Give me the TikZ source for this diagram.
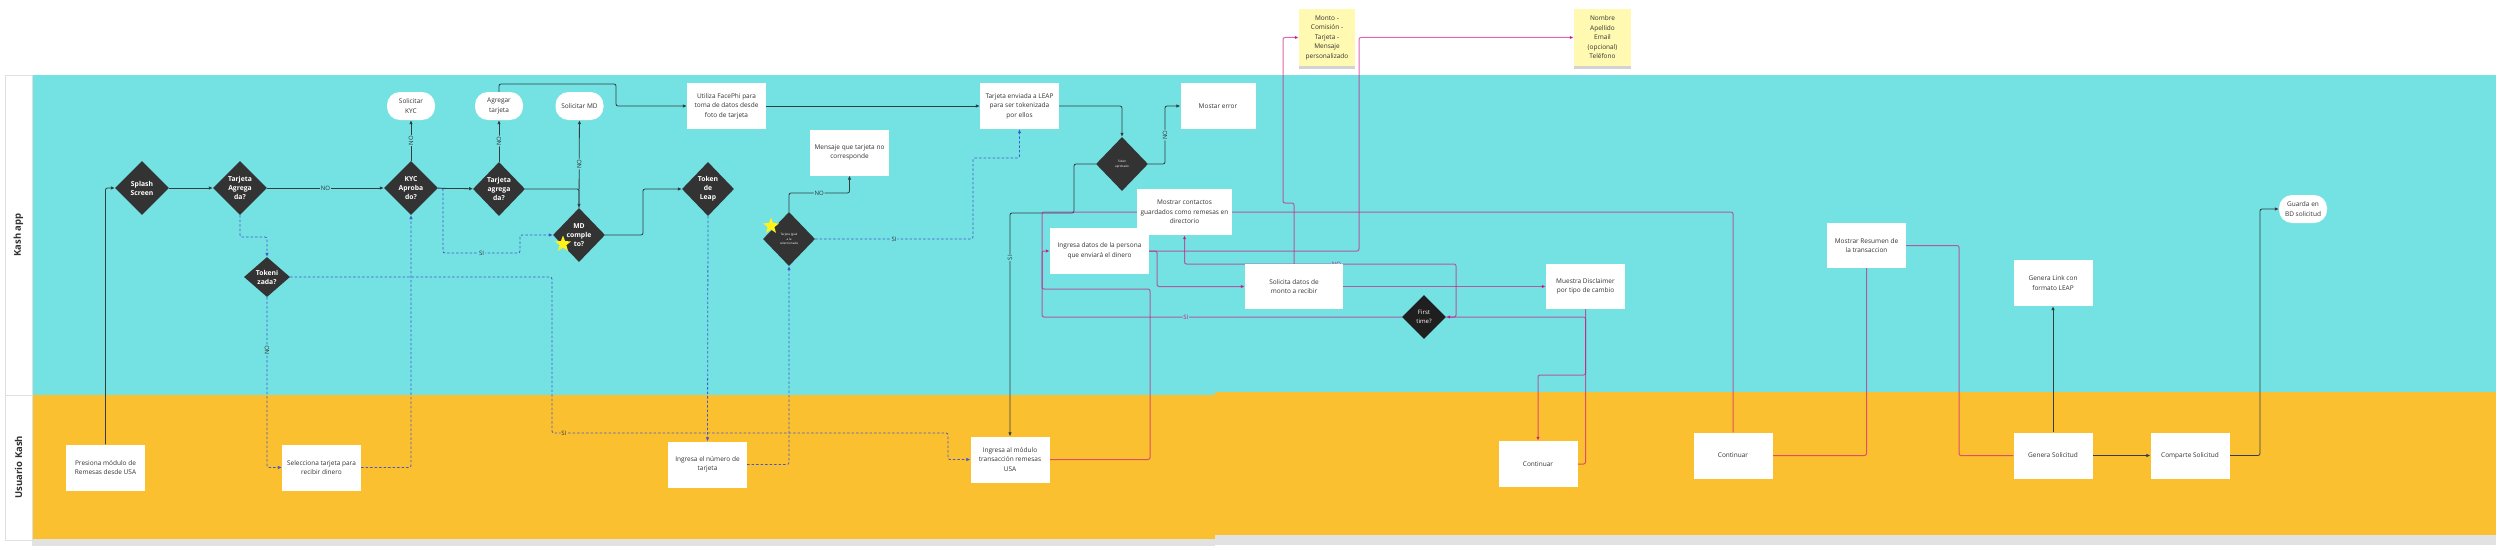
\documentclass[tikz,border=0pt]{standalone}
\usepackage{fontspec}
\setmainfont{Open Sans}
\usetikzlibrary{shapes.geometric,arrows.meta,backgrounds,shadows}

\definecolor{kashcyan}{RGB}{116,225,227}
\definecolor{kashorange}{RGB}{251,192,47}
\definecolor{kashgray}{RGB}{226,226,226}
\definecolor{flowdark}{RGB}{51,51,51}
\definecolor{linedark}{RGB}{50,62,66}
\definecolor{dashblue}{RGB}{70,88,205}
\definecolor{flowpink}{RGB}{205,20,130}
\definecolor{stickyyellow}{RGB}{255,249,177}
\definecolor{txtgray}{RGB}{50,50,50}

\begin{document}
\begin{tikzpicture}[
  x=1pt, y=-1pt,
  >={Latex[length=4pt,width=3.6pt]},
  every node/.style={font=\fontsize{6.5}{9.5}\selectfont, text=txtgray, align=center},
  flowbox/.style={fill=white, minimum width=79pt, minimum height=46pt, inner sep=1pt},
  flowpill/.style={fill=white, rounded corners=13pt, minimum width=48pt, minimum height=28pt, inner sep=1pt},
  flowdiamond/.style={diamond, fill=flowdark, minimum width=54pt, minimum height=54pt, inner sep=0pt, text=white, font=\fontsize{6.8}{9}\selectfont\bfseries},
  stickynote/.style={fill=stickyyellow, minimum width=57pt, minimum height=57pt, inner sep=1pt, drop shadow={shadow xshift=0pt, shadow yshift=-3pt, opacity=0.35}},
  solid line/.style={draw=linedark, line width=0.8pt, rounded corners=2pt},
  dash line/.style={draw=dashblue, line width=0.8pt, dash pattern=on 2.5pt off 2pt, rounded corners=2pt},
  pink line/.style={draw=flowpink, draw opacity=0.65, line width=1pt, rounded corners=2pt},
  edgetag/.style={fill=kashcyan, inner sep=0.8pt, font=\fontsize{6}{6}\selectfont},
  edgetag orange/.style={edgetag, fill=kashorange},
  edgetag pink/.style={edgetag, text=flowpink},
  star mark/.style={star, star points=5, star point ratio=2.4, fill=yellow!90!white, minimum size=17pt, inner sep=0pt}
]
  \useasboundingbox (0,0) rectangle (2500,551);

  % Lanes
  \begin{scope}[on background layer]
    \fill[kashcyan] (32,75) rectangle (2496,395);
    \fill[kashorange] (32,395) rectangle (1215,539);
    \fill[kashorange] (1215,392) rectangle (2496,535);
    \fill[kashgray] (32,539) rectangle (1215,546);
    \fill[kashgray] (1215,535) rectangle (2496,545);
    \draw[gray!25, line width=0.6pt] (5,75) rectangle (32,540);
    \draw[gray!25, line width=0.6pt] (5,395) -- (32,395);
  \end{scope}
  \node[rotate=90, font=\fontsize{9.5}{10}\selectfont\bfseries] (kashapp) at (18.5,235) {Kash app};
  \node[rotate=90, font=\fontsize{9.5}{10}\selectfont\bfseries] (usuario) at (18.5,467) {Usuario Kash};

  % Usuario Kash
  \node[flowbox] (presiona) at (105.5,467.5) {Presiona módulo de\\Remesas desde USA};
  \node[flowbox] (selecciona) at (321.5,467.5) {Selecciona tarjeta para\\recibir dinero};
  \node[flowbox] (ingnumero) at (707.5,464.5) {Ingresa el número de\\tarjeta};
  \node[flowbox] (modulo) at (1010,459.5) {Ingresa al módulo\\transacción remesas\\USA};
  \node[flowbox] (continuar1) at (1538,464) {Continuar};
  \node[flowbox] (continuar2) at (1733,455.5) {Continuar};
  \node[flowbox] (genera) at (2053,455.5) {Genera Solicitud};
  \node[flowbox] (comparte) at (2190,455.5) {Comparte Solicitud};

  % Kash app: decisions
  \node[flowdiamond] (splash) at (142,188) {Splash\\Screen};
  \node[flowdiamond] (tagregada) at (240,188) {Tarjeta\\Agrega\\da?};
  \node[flowdiamond] (kyc) at (411,188) {KYC\\Aproba\\do?};
  \node[flowdiamond, minimum width=46pt, minimum height=40pt] (tokenizada) at (267,277) {Tokeni\\zada?};
  \node[flowdiamond, minimum width=52pt] (tagregada2) at (499,189) {Tarjeta\\agrega\\da?};
  \node[flowdiamond, minimum width=52pt] (mdcompleto) at (579,235) {MD\\comple\\to?};
  \node[flowdiamond, minimum width=52pt] (tokenleap) at (708,189) {Token\\de\\Leap};
  \node[flowdiamond, minimum width=52pt, font=\fontsize{3}{4.5}\selectfont] (tigual) at (789,239) {Tarjeta igual\\a la\\seleccionada};
  \node[flowdiamond, minimum width=52pt, font=\fontsize{3}{4.5}\selectfont] (tokenapr) at (1122,164) {Token\\aprobado};
  \node[flowdiamond, fill=black!88, minimum width=44pt, minimum height=44pt, font=\fontsize{6}{8.5}\selectfont] (first) at (1424,317) {First\\time?};

  % Kash app: steps
  \node[flowpill] (solkyc) at (411,106) {Solicitar\\KYC};
  \node[flowpill] (agregar) at (499,106) {Agregar\\tarjeta};
  \node[flowpill] (solmd) at (579.5,106) {Solicitar MD};
  \node[flowbox] (facephi) at (726.5,106) {Utiliza FacePhi para\\toma de datos desde\\foto de tarjeta};
  \node[flowbox] (mensaje) at (849.5,152.5) {Mensaje que tarjeta no\\corresponde};
  \node[flowbox] (enviada) at (1019.5,106) {Tarjeta enviada a LEAP\\para ser tokenizada\\por ellos};
  \node[flowbox, minimum width=75pt] (error) at (1218,106) {Mostar error};
  \node[flowbox, minimum width=99pt] (ingdatos) at (1099.5,251) {Ingresa datos de la persona\\que enviará el dinero};
  \node[flowbox, minimum width=95pt] (mostrar) at (1184.5,212) {Mostrar contactos\\guardados como remesas en\\directorio};
  \node[flowbox, minimum width=98pt, minimum height=45pt] (solicita) at (1294,286.5) {Solicita datos de\\monto a recibir};
  \node[flowbox, minimum height=45pt] (disclaimer) at (1585.5,286.5) {Muestra Disclaimer\\por tipo de cambio};
  \node[flowbox, minimum height=45pt] (resumen) at (1866.5,245.5) {Mostrar Resumen de\\la transaccion};
  \node[flowbox] (genlink) at (2053,283) {Genera Link con\\formato LEAP};
  \node[flowpill] (guarda) at (2303,209) {Guarda en\\BD solicitud};

  % Notes
  \node[stickynote, minimum width=56pt] (monto) at (1327,37.5) {Monto -\\Comisión -\\Tarjeta -\\Mensaje\\personalizado};
  \node[stickynote] (nombre) at (1602.5,37.5) {Nombre\\Apellido\\Email\\(opcional)\\Teléfono};

  % Marks
  \node[star mark] (star1) at (563,244) {};
  \node[star mark] (star2) at (771,226) {};

  \begin{scope}[on background layer]
  % Solid arrows
  \draw[solid line, ->] (presiona.north) |- (splash.west);
  \draw[solid line, ->] (splash) -- (tagregada);
  \draw[solid line, ->] (tagregada) -- node[edgetag]{NO} (kyc);
  \draw[solid line, ->] (kyc) -- node[edgetag, rotate=90]{NO} (solkyc);
  \draw[solid line, ->] (kyc) -- (tagregada2);
  \draw[solid line, ->] (tagregada2) -- node[edgetag, rotate=90]{NO} (agregar);
  \draw[solid line, ->] (tagregada2.east) -| (mdcompleto.north);
  \draw[solid line, ->] (mdcompleto.north) -- node[edgetag, rotate=90]{NO} (solmd);
  \draw[solid line, ->] (mdcompleto.east) -- (643,235) |- (tokenleap.west);
  \draw[solid line, ->] (agregar.north) -- (499,84) -- (616,84) |- (facephi.west);
  \draw[solid line, ->] (facephi) -- (enviada);
  \draw[solid line, ->] (enviada.east) -| (tokenapr.north);
  \draw[solid line, ->] (tokenapr.east) -- (1165,164) -- node[edgetag, rotate=90]{NO} (1165,106) -- (error.west);
  \draw[solid line, ->] (tokenapr.west) -- (1074,164) -- (1074,213) -- (1010,213) -- node[edgetag, rotate=90, pos=0.2]{SI} (modulo.north);
  \draw[solid line, ->] (tigual.north) -- (789,193) -- node[edgetag]{NO} (849.5,193) -- (mensaje.south);
  \draw[solid line, ->] (genera) -- (genlink);
  \draw[solid line, ->] (genera) -- (comparte);
  \draw[solid line, ->] (comparte.east) -- (2260,455.5) |- (guarda.west);

  % Dashed arrows
  \draw[dash line, ->] (tokenleap.south) -- (ingnumero.north);
  \draw[dash line, ->] (ingnumero.east) -| (tigual.south);
  \draw[dash line, ->] (tigual.east) -- node[edgetag]{SI} (973,239) -- (973,158) -| (enviada.south);
  \draw[dash line, ->] (tagregada.south) -- (240,237) -| (tokenizada.north);
  \draw[dash line, ->] (tokenizada.south) -- node[edgetag, rotate=90, pos=0.31]{NO} (267,467.5) -- (selecciona.west);
  \draw[dash line, ->] (selecciona.east) -| (kyc.south);
  \draw[dash line, ->] (tokenizada.east) -- (552,277) -- (552,433) -- node[edgetag orange, pos=0.03]{SI} (948,433) |- (modulo.west);
  \draw[dash line, ->] (kyc.east) -- (443,188) -- (443,253) -- node[edgetag]{SI} (520,253) -- (520,235) -- (mdcompleto.west);

  % Pink arrows
  \draw[pink line] (modulo.east) -| (1150,289) -- (1042,289) -- (1042,212) -- (mostrar.west);
  \draw[pink line, ->] (first.west) -- node[edgetag pink, pos=0.6]{SI} (1042,317) |- (ingdatos.west);
  \draw[pink line, ->] (ingdatos.east) -- (1157,251) -- (1157,286.5) -- (solicita.west);
  \draw[pink line, ->] (ingdatos.east) -- (1359,251) |- (nombre.west);
  \draw[pink line, ->] (solicita.north) -- (1294,203) -- (1283,203) |- (monto.west);
  \draw[pink line, ->] (solicita.east) -- (disclaimer.west);
  \draw[pink line, ->] (disclaimer.south) -- (1585.5,375) -- (1538,375) -- (continuar1.north);
  \draw[pink line, ->] (continuar1.east) -- (1585.5,464) -- (1585.5,317) -- (first.east);
  \draw[pink line, ->] (first.east) -- (1456,317) -- (1456,264) -- node[edgetag pink, pos=0.44]{NO} (1184.5,264) -- (mostrar.south);
  \draw[pink line] (mostrar.east) -- (1733,212) -- (continuar2.north);
  \draw[pink line] (continuar2.east) -| (resumen.south);
  \draw[pink line] (resumen.east) -- (1959,245.5) |- (genera.west);
  \end{scope}
\end{tikzpicture}
\end{document}
